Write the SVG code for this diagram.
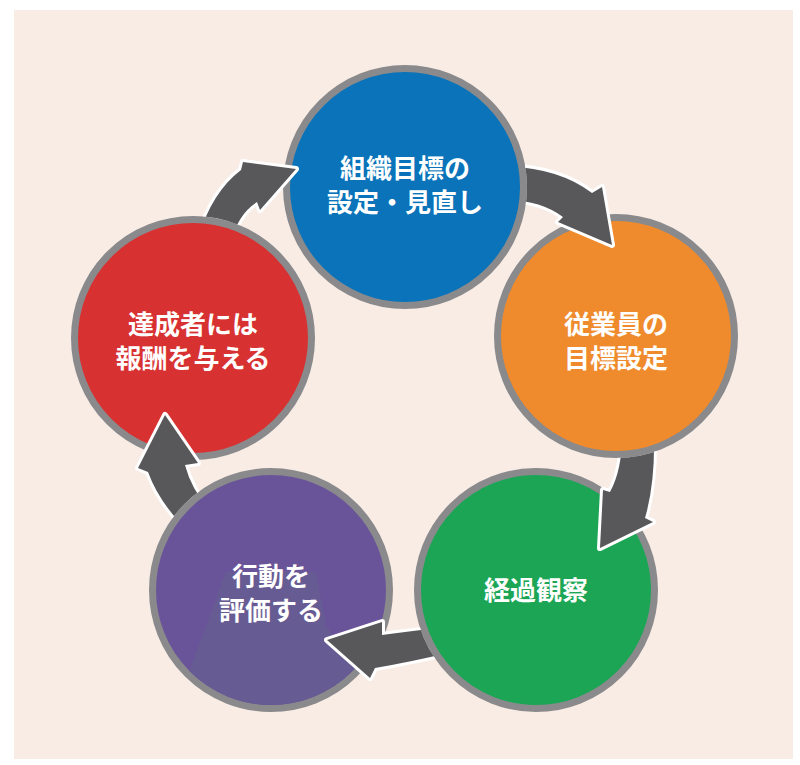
<svg xmlns="http://www.w3.org/2000/svg" width="800" height="765" viewBox="0 0 800 765">
  <style>
    .ring { stroke: #8a8a8c; stroke-width: 7; }
    .lbl { font-family: "Noto Sans CJK JP", "Noto Sans", sans-serif; font-size: 26px; font-weight: bold; fill: #ffffff; text-anchor: middle; }
    .arw { fill: #58585a; stroke: #ffffff; stroke-width: 6; stroke-linejoin: round; paint-order: stroke fill; }
  </style>
  <defs>
    <mask id="mRed" maskUnits="userSpaceOnUse" x="0" y="0" width="800" height="765">
      <rect x="0" y="0" width="800" height="765" fill="#fff"/>
      <circle cx="193" cy="338" r="122" fill="#000"/>
    </mask>
    <mask id="mBlue" maskUnits="userSpaceOnUse" x="0" y="0" width="800" height="765">
      <rect x="0" y="0" width="800" height="765" fill="#fff"/>
      <circle cx="405" cy="187" r="122" fill="#000"/>
    </mask>
    <mask id="mOrange" maskUnits="userSpaceOnUse" x="0" y="0" width="800" height="765">
      <rect x="0" y="0" width="800" height="765" fill="#fff"/>
      <circle cx="616" cy="336" r="122" fill="#000"/>
    </mask>
    <mask id="mGreen" maskUnits="userSpaceOnUse" x="0" y="0" width="800" height="765">
      <rect x="0" y="0" width="800" height="765" fill="#fff"/>
      <circle cx="536" cy="590" r="122" fill="#000"/>
    </mask>
    <mask id="mPurple" maskUnits="userSpaceOnUse" x="0" y="0" width="800" height="765">
      <rect x="0" y="0" width="800" height="765" fill="#fff"/>
      <circle cx="271" cy="590" r="122" fill="#000"/>
    </mask>
    <clipPath id="cPurple">
      <circle cx="271" cy="590" r="115"/>
    </clipPath>
  </defs>

  <rect x="0" y="0" width="800" height="765" fill="#ffffff"/>
  <rect x="14" y="10" width="779" height="749" fill="#f9ece5"/>

  <g id="node-blue">
    <circle class="ring" cx="405" cy="187" r="118.5" fill="#0a73b9"/>
    <text class="lbl" x="405" y="177.5">組織目標の</text>
    <text class="lbl" x="405" y="211.5">設定・見直し</text>
  </g>
  <g id="node-orange">
    <circle class="ring" cx="616" cy="336" r="118.5" fill="#f08b2d"/>
    <text class="lbl" x="616" y="334">従業員の</text>
    <text class="lbl" x="616" y="367.5">目標設定</text>
  </g>
  <g id="node-green">
    <circle class="ring" cx="536" cy="590" r="118.5" fill="#1ba555"/>
    <text class="lbl" x="536" y="600">経過観察</text>
  </g>
  <g id="node-purple">
    <circle class="ring" cx="271" cy="590" r="118.5" fill="#6a5499"/>
    <polygon clip-path="url(#cPurple)" points="226,572 316,572 326,625 360,678 360,720 180,720 188,675" fill="#675b93"/>
    <text class="lbl" x="271" y="586">行動を</text>
    <text class="lbl" x="271" y="619.5">評価する</text>
  </g>
  <g id="node-red">
    <circle class="ring" cx="193" cy="338" r="118.5" fill="#d83131"/>
    <text class="lbl" x="193" y="334">達成者には</text>
    <text class="lbl" x="193" y="367.5">報酬を与える</text>
  </g>

  <g id="connectors">
    <path class="arw" mask="url(#mRed)" d="M 198,238 Q 212,192 241,170 L 243,162 L 296,169 L 260,210 L 257,202 Q 238,214 231,242 Z"/>
    <path class="arw" mask="url(#mBlue)" d="M 505,166 Q 560,168 592,193 L 602,187 L 612,245 L 558,222 L 563,217 Q 540,200 505,200 Z"/>
    <path class="arw" mask="url(#mOrange)" d="M 622,436 Q 622,470 610,492 L 603,490 L 600,548 L 653,522 L 645,518 Q 655,484 654,436 Z"/>
    <path class="arw" mask="url(#mGreen)" d="M 446,627 Q 412,631 382,635 L 382,622 L 327,640 L 370,678 L 375,668 Q 410,662 448,653 Z"/>
    <path class="arw" mask="url(#mPurple)" d="M 192,535 Q 160,505 148,472 L 138,468 L 165,415 L 198,463 L 185,465 Q 192,492 214,515 Z"/>
  </g>
</svg>
